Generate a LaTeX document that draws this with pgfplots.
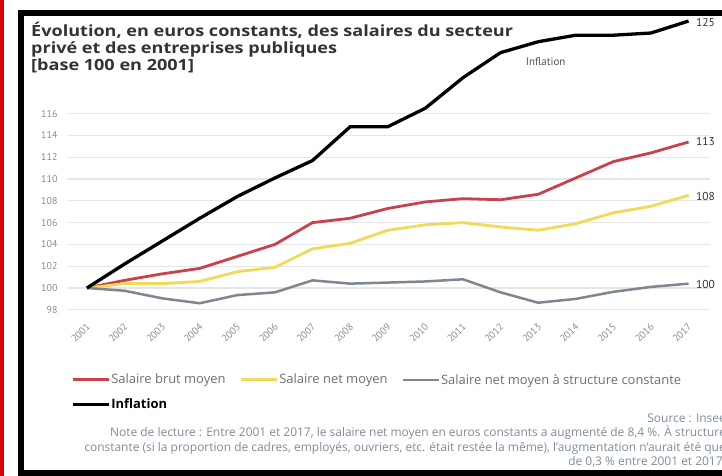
\documentclass[border=0pt]{standalone}
\usepackage{pgfplots}
\pgfplotsset{compat=1.18}
\usepackage{fontspec}
\setmainfont{PT Sans}
\newfontfamily\titlefont{Open Sans}
\newfontfamily\notefont{Open Sans}
\definecolor{cred}{HTML}{C8414B}
\definecolor{cyellow}{HTML}{EFDA5A}
\definecolor{cgray}{HTML}{7D8791}
\definecolor{gridc}{HTML}{E6E6E6}
\definecolor{tickc}{HTML}{8C8C8C}
\definecolor{legc}{HTML}{6E6E6E}
\definecolor{notec}{HTML}{7F8C9A}
\definecolor{titlec}{HTML}{333333}
\newcommand\ttl[1]{\scalebox{1.17}[1]{#1}}
\begin{document}
\begin{tikzpicture}
\begin{scope}[x=1bp,y=1bp]
\clip (0,0) rectangle (722,476);
\fill[white] (0,0) rectangle (722,476);
% frame
\fill[red!85!black] (0.5,0) rectangle (3.5,476);
\draw[line width=6bp] (724,463) -- (21,463) -- (21,3) -- (724,3);
% title
\node[anchor=base west, inner sep=0, text=titlec, font=\titlefont\bfseries\fontsize{15.5}{17}\selectfont] at (31,476-37) {\ttl{Évolution, en euros constants, des salaires du secteur}};
\node[anchor=base west, inner sep=0, text=titlec, font=\titlefont\bfseries\fontsize{15.5}{17}\selectfont] at (31,476-54) {\ttl{privé et des entreprises publiques}};
\node[anchor=base west, inner sep=0, text=titlec, font=\titlefont\bfseries\fontsize{15.5}{17}\selectfont] at (31,476-71) {\ttl{[base 100 en 2001]}};
% source and note
\node[anchor=base east, inner sep=0, text=notec, font=\notefont\fontsize{12}{13}\selectfont] at (726,476-423) {Source : Insee};
\node[anchor=base east, inner sep=0, text=notec, font=\notefont\fontsize{12}{13}\selectfont] at (726,476-437) {Note de lecture : Entre 2001 et 2017, le salaire net moyen en euros constants a augmenté de 8,4 \%. À structure};
\node[anchor=base east, inner sep=0, text=notec, font=\notefont\fontsize{12}{13}\selectfont] at (726,476-452) {constante (si la proportion de cadres, employés, ouvriers, etc. était restée la même), l’augmentation n’aurait été que};
\node[anchor=base east, inner sep=0, text=notec, font=\notefont\fontsize{12}{13}\selectfont] at (726,476-466) {de 0,3 \% entre 2001 et 2017.};
\end{scope}

\begin{axis}[
    at={(67bp,155.3bp)}, anchor=south west,
    scale only axis, width=643bp, height=316bp,
    xmin=2000.47, xmax=2017.57, ymin=97, ymax=126,
    xtick={2001,...,2017},
    ytick={98,100,...,116},
    ymajorgrids,
    grid style={line width=1.3bp, gridc},
    axis line style={draw=none},
    major tick length=0,
    /pgf/number format/assume math mode=true,
    /pgf/number format/1000 sep={},
    ticklabel style={font=\fontsize{10}{12}\selectfont, text=tickc},
    yticklabel style={anchor=east, xshift=-6bp},
    xticklabel style={rotate=45, anchor=east, xshift=-1bp, yshift=-4bp, inner sep=1bp},
    clip=false,
    legend columns=3,
    legend cell align=left,
    legend style={at={(axis description cs:0.006,-0.162)}, anchor=north west,
        draw=none, fill=none, inner sep=0pt, row sep=9bp,
        font=\notefont\fontsize{13}{14}\selectfont, text=legc,
        /tikz/every even column/.append style={column sep=13bp},
        nodes={inner xsep=1bp}},
    legend image code/.code={\draw[#1] (0bp,0bp) -- (36bp,0bp);},
]
\addplot[cred, line width=2.8bp] coordinates {
(2001,100) (2002,100.7) (2003,101.3) (2004,101.8) (2005,102.9) (2006,104.0)
(2007,106.0) (2008,106.4) (2009,107.3) (2010,107.9) (2011,108.2) (2012,108.1)
(2013,108.6) (2014,110.1) (2015,111.6) (2016,112.4) (2017,113.4)};
\addlegendentry{Salaire brut moyen}
\addplot[cyellow, line width=2.8bp] coordinates {
(2001,100) (2002,100.4) (2003,100.4) (2004,100.6) (2005,101.5) (2006,101.9)
(2007,103.6) (2008,104.1) (2009,105.3) (2010,105.8) (2011,106.0) (2012,105.6)
(2013,105.3) (2014,105.9) (2015,106.9) (2016,107.5) (2017,108.5)};
\addlegendentry{Salaire net moyen}
\addplot[cgray, line width=2.5bp] coordinates {
(2001,100) (2002,99.75) (2003,99.05) (2004,98.6) (2005,99.35) (2006,99.6)
(2007,100.7) (2008,100.4) (2009,100.5) (2010,100.6) (2011,100.8) (2012,99.6)
(2013,98.65) (2014,99.0) (2015,99.65) (2016,100.1) (2017,100.4)};
\addlegendentry{Salaire net moyen à structure constante}
\addplot[black, line width=3.3bp] coordinates {
(2001,100) (2002,102.2) (2003,104.3) (2004,106.4) (2005,108.4) (2006,110.1)
(2007,111.7) (2008,114.8) (2009,114.8) (2010,116.5) (2011,119.3) (2012,121.6)
(2013,122.6) (2014,123.2) (2015,123.2) (2016,123.4) (2017,124.5)};
\addlegendentry{\color{black}\bfseries Inflation}
\node[anchor=west, xshift=4bp, text=titlec, font=\fontsize{11.5}{13}\selectfont] at (axis cs:2017,124.4) {125};
\node[anchor=west, xshift=4bp, text=titlec, font=\fontsize{11.5}{13}\selectfont] at (axis cs:2017,113.4) {113};
\node[anchor=west, xshift=4bp, text=titlec, font=\fontsize{11.5}{13}\selectfont] at (axis cs:2017,108.4) {108};
\node[anchor=west, xshift=4bp, text=titlec, font=\fontsize{11.5}{13}\selectfont] at (axis cs:2017,100.3) {100};
\node[text=titlec!85, font=\fontsize{11}{13}\selectfont] at (axis cs:2013.2,120.8) {Inflation};
\end{axis}
\end{tikzpicture}
\end{document}
